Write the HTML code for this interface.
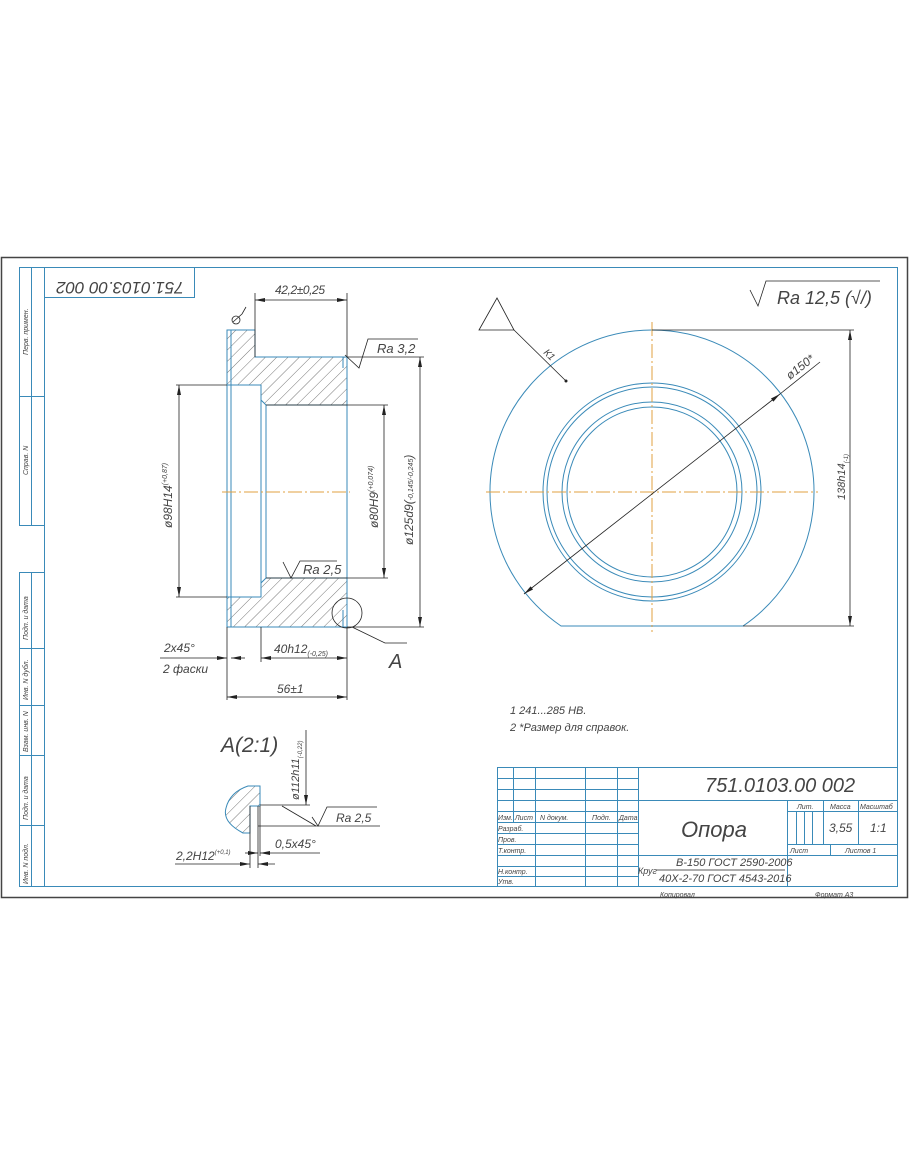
<!DOCTYPE html>
<html><head><meta charset="utf-8"><style>
html,body{margin:0;padding:0;background:#fff;}
svg{display:block}
text{font-family:"Liberation Sans",sans-serif;font-style:italic;fill:#444;}
</style></head><body>
<svg width="910" height="1155" viewBox="0 0 910 1155" xmlns="http://www.w3.org/2000/svg">
<defs>
<pattern id="h" patternUnits="userSpaceOnUse" width="8" height="8" patternTransform="rotate(45)">
<line x1="0" y1="0" x2="0" y2="8" stroke="#555" stroke-width="0.8"/>
</pattern>
<marker id="a" viewBox="0 0 10 4" refX="10" refY="2" markerWidth="10" markerHeight="4" orient="auto-start-reverse" markerUnits="userSpaceOnUse"><path d="M0,0L10,2L0,4z" fill="#222"/></marker>
</defs>
<rect x="1.5" y="257.5" width="906" height="640" fill="none" stroke="#444" stroke-width="1.5"/>
<g fill="none" stroke="#3a8ab8" stroke-width="1">
<rect x="44.5" y="267.5" width="853" height="619"/>
<rect x="19.5" y="267.5" width="25" height="258"/>
<line x1="31.5" y1="267" x2="31.5" y2="525"/>
<line x1="19" y1="396.5" x2="44" y2="396.5"/>
<rect x="19.5" y="572.5" width="25" height="314"/>
<line x1="31.5" y1="572" x2="31.5" y2="886"/>
<line x1="19" y1="648.5" x2="44" y2="648.5"/>
<line x1="19" y1="705.5" x2="44" y2="705.5"/>
<line x1="19" y1="755.5" x2="44" y2="755.5"/>
<line x1="19" y1="825.5" x2="44" y2="825.5"/>
<rect x="44.5" y="267.5" width="150" height="30"/>
</g>
<g font-size="7">
<text transform="translate(28,355) rotate(-90)">Перв. примен.</text>
<text transform="translate(28,475) rotate(-90)">Справ. N</text>
<text transform="translate(28,640) rotate(-90)">Подп. и дата</text>
<text transform="translate(28,700) rotate(-90)">Инв. N дубл.</text>
<text transform="translate(28,752) rotate(-90)">Взам. инв. N</text>
<text transform="translate(28,820) rotate(-90)">Подп. и дата</text>
<text transform="translate(28,884) rotate(-90)">Инв. N подл.</text>
</g>
<text transform="translate(120,282) rotate(180)" font-size="17" text-anchor="middle">751.0103.00 002</text>

<g stroke="#3a8ab8" stroke-width="1" fill="url(#h)">
<path d="M227,330H255V357H347V405H266L261,400V385H227Z"/>
<path d="M227,597H261V583L266,578H347V627H227Z"/>
</g>
<g stroke="#3a8ab8" stroke-width="1" fill="none">
<line x1="231" y1="330" x2="231" y2="627"/>
<line x1="227" y1="385" x2="227" y2="597"/>
<line x1="261" y1="385" x2="261" y2="597"/>
<line x1="266" y1="405" x2="266" y2="578"/>
<line x1="347" y1="405" x2="347" y2="578"/>
<line x1="343" y1="357" x2="343" y2="368"/>
<line x1="343" y1="610" x2="343" y2="627"/>
</g>
<line x1="222" y1="492" x2="350" y2="492" stroke="#e0a040" stroke-width="1" stroke-dasharray="14,3,2,3"/>
<g stroke="#222" stroke-width="0.8" fill="none">
<line x1="255" y1="293" x2="255" y2="357"/><line x1="347" y1="293" x2="347" y2="357"/>
<line x1="255" y1="300" x2="347" y2="300" marker-start="url(#a)" marker-end="url(#a)"/>
<line x1="176" y1="385" x2="227" y2="385"/><line x1="176" y1="597" x2="227" y2="597"/>
<line x1="179" y1="385" x2="179" y2="597" marker-start="url(#a)" marker-end="url(#a)"/>
<line x1="266" y1="405" x2="388" y2="405"/><line x1="266" y1="578" x2="388" y2="578"/>
<line x1="384" y1="405" x2="384" y2="578" marker-start="url(#a)" marker-end="url(#a)"/>
<line x1="347" y1="357" x2="424" y2="357"/><line x1="347" y1="627" x2="424" y2="627"/>
<line x1="420" y1="357" x2="420" y2="627" marker-start="url(#a)" marker-end="url(#a)"/>
<line x1="261" y1="627" x2="261" y2="662"/><line x1="347" y1="627" x2="347" y2="700"/><line x1="227" y1="627" x2="227" y2="700"/>
<line x1="261" y1="658" x2="347" y2="658" marker-start="url(#a)" marker-end="url(#a)"/>
<line x1="160" y1="658" x2="227" y2="658" marker-end="url(#a)"/>
<line x1="231" y1="658" x2="245" y2="658" marker-start="url(#a)"/>
<line x1="227" y1="697" x2="347" y2="697" marker-start="url(#a)" marker-end="url(#a)"/>
<circle cx="347" cy="613" r="15"/>
<polyline points="352,627 385,643 407,643"/>
<polyline points="345,355 359,368 368,339 418,339"/>
<polyline points="283,562 291,578 300,561 337,561"/>
<polyline points="233,322 242,314 246,307"/>
<circle cx="236" cy="320" r="4"/>
</g>
<g font-size="12">
<text x="275" y="294" textLength="50">42,2±0,25</text>
<text x="377" y="353" font-size="13">Ra 3,2</text>
<text x="303" y="574" font-size="13">Ra 2,5</text>
<text transform="translate(172,528) rotate(-90)" font-size="12">ø98H14<tspan font-size="7" dy="-5">(+0,87)</tspan></text>
<text transform="translate(378,528) rotate(-90)" font-size="12">ø80H9<tspan font-size="7" dy="-5">(+0,074)</tspan></text>
<text transform="translate(413,545) rotate(-90)" font-size="12">ø125d9(<tspan font-size="7">-0,145/-0,245</tspan>)</text>
<text x="274" y="653">40h12<tspan font-size="7" dy="3">(-0,25)</tspan></text>
<text x="164" y="652">2x45°</text>
<text x="163" y="673">2 фаски</text>
<text x="277" y="693">56±1</text>
<text x="389" y="668" font-size="20" font-style="normal">A</text>
</g>

<g stroke="#3a8ab8" stroke-width="1" fill="none">
<path d="M561,626A162,162 0 1 1 743,626Z"/>
<circle cx="652" cy="492" r="109"/><circle cx="652" cy="492" r="105"/>
<circle cx="652" cy="492" r="90"/><circle cx="652" cy="492" r="85"/>
</g>
<g stroke="#e0a040" stroke-width="1" stroke-dasharray="14,3,2,3">
<line x1="652" y1="322" x2="652" y2="632"/>
<line x1="486" y1="492" x2="818" y2="492"/>
</g>
<g stroke="#222" stroke-width="0.8" fill="none">
<line x1="524" y1="594" x2="780" y2="394" marker-start="url(#a)" marker-end="url(#a)"/>
<line x1="780" y1="394" x2="820" y2="362"/>
<line x1="652" y1="330" x2="854" y2="330"/><line x1="743" y1="626" x2="854" y2="626"/>
<line x1="850" y1="330" x2="850" y2="626" marker-start="url(#a)" marker-end="url(#a)"/>
<path d="M479,330L497,298L514,330Z"/>
<line x1="514" y1="330" x2="566" y2="381"/>
<polyline points="750,290 758,306 766,281 880,281"/>
</g>
<circle cx="566" cy="381" r="1.5" fill="#222"/>
<text transform="translate(543,353) rotate(45)" font-size="10">К1</text>
<text transform="translate(790,380) rotate(-38)" font-size="12">ø150*</text>
<text transform="translate(845,500) rotate(-90)" font-size="11">138h14<tspan font-size="6" dy="3">(-1)</tspan></text>
<text x="777" y="304" font-size="18">Ra 12,5 (√/)</text>
<text x="510" y="714" font-size="11">1  241...285 HB.</text>
<text x="510" y="731" font-size="11">2  *Размер для справок.</text>

<text x="221" y="752" font-size="21" font-style="normal">A(2:1)</text>
<g stroke="#3a8ab8" stroke-width="1" fill="url(#h)">
<path d="M260,786V806H250V833H243Q222,822 226,808Q230,792 248,786Z"/>
</g>
<g stroke="#222" stroke-width="0.8" fill="none">
<line x1="250" y1="806" x2="250" y2="868"/><line x1="258" y1="806" x2="258" y2="868"/><line x1="260" y1="806" x2="260" y2="856"/>
<line x1="260" y1="805" x2="310" y2="805"/>
<line x1="306" y1="730" x2="306" y2="805" marker-end="url(#a)"/>
<line x1="282" y1="806" x2="316" y2="826"/>
<line x1="258" y1="826" x2="380" y2="826"/>
<polyline points="312,817 318,826 327,807 377,807"/>
<line x1="245" y1="853" x2="258" y2="853" marker-end="url(#a)"/>
<line x1="260" y1="853" x2="320" y2="853" marker-start="url(#a)"/>
<line x1="175" y1="864" x2="250" y2="864" marker-end="url(#a)"/>
<line x1="258" y1="864" x2="275" y2="864" marker-start="url(#a)"/>
</g>
<text transform="translate(299,800) rotate(-90)" font-size="11">ø112h11<tspan font-size="6" dy="3">(-0,22)</tspan></text>
<text x="336" y="822" font-size="12">Ra 2,5</text>
<text x="275" y="848" font-size="12">0,5x45°</text>
<text x="176" y="860" font-size="12">2,2H12<tspan font-size="6" dy="-6">(+0,1)</tspan></text>

<g stroke="#3a8ab8" stroke-width="1" fill="none">
<rect x="497.5" y="767.5" width="400" height="119"/>
<line x1="638.5" y1="767" x2="638.5" y2="886"/>
<line x1="513.5" y1="767" x2="513.5" y2="822"/>
<line x1="535.5" y1="767" x2="535.5" y2="886"/>
<line x1="585.5" y1="767" x2="585.5" y2="886"/>
<line x1="617.5" y1="767" x2="617.5" y2="886"/>
<line x1="497" y1="778.5" x2="638" y2="778.5"/>
<line x1="497" y1="789.5" x2="638" y2="789.5"/>
<line x1="497" y1="800.5" x2="897" y2="800.5"/>
<line x1="497" y1="811.5" x2="638" y2="811.5"/>
<line x1="497" y1="822.5" x2="638" y2="822.5"/>
<line x1="497" y1="833.5" x2="638" y2="833.5"/>
<line x1="497" y1="844.5" x2="638" y2="844.5"/>
<line x1="497" y1="855.5" x2="897" y2="855.5"/>
<line x1="497" y1="866.5" x2="638" y2="866.5"/>
<line x1="497" y1="876.5" x2="638" y2="876.5"/>
<line x1="787.5" y1="800" x2="787.5" y2="886"/>
<line x1="787" y1="811.5" x2="897" y2="811.5"/>
<line x1="787" y1="844.5" x2="897" y2="844.5"/>
<line x1="823.5" y1="800" x2="823.5" y2="844"/>
<line x1="858.5" y1="800" x2="858.5" y2="844"/>
<line x1="796.5" y1="811" x2="796.5" y2="844"/>
<line x1="804.5" y1="811" x2="804.5" y2="844"/>
<line x1="812.5" y1="811" x2="812.5" y2="844"/>
<line x1="830.5" y1="844" x2="830.5" y2="855"/>
</g>
<g stroke="#222" stroke-width="0.8"><line x1="656" y1="870" x2="785" y2="870"/></g>
<g font-size="7">
<text x="498" y="820">Изм. Лист</text><text x="540" y="820">N докум.</text><text x="592" y="820">Подп.</text><text x="619" y="820">Дата</text>
<text x="498" y="831">Разраб.</text><text x="498" y="842">Пров.</text><text x="498" y="853">Т.контр.</text>
<text x="498" y="874">Н.контр.</text><text x="498" y="884">Утв.</text>
<text x="797" y="809">Лит.</text><text x="830" y="809">Масса</text><text x="860" y="809">Масштаб</text>
<text x="790" y="853">Лист</text><text x="845" y="853">Листов   1</text>
<text x="660" y="897">Копировал</text><text x="815" y="897">Формат   А3</text>
</g>
<text x="705" y="792" font-size="20">751.0103.00 002</text>
<text x="681" y="837" font-size="22">Опора</text>
<text x="829" y="832" font-size="12">3,55</text>
<text x="870" y="832" font-size="12">1:1</text>
<text x="638" y="874" font-size="9">Круг</text>
<text x="676" y="866" font-size="11">B-150 ГОСТ 2590-2006</text>
<text x="659" y="882" font-size="11">40X-2-70 ГОСТ 4543-2016</text>
</svg>
</body></html>
